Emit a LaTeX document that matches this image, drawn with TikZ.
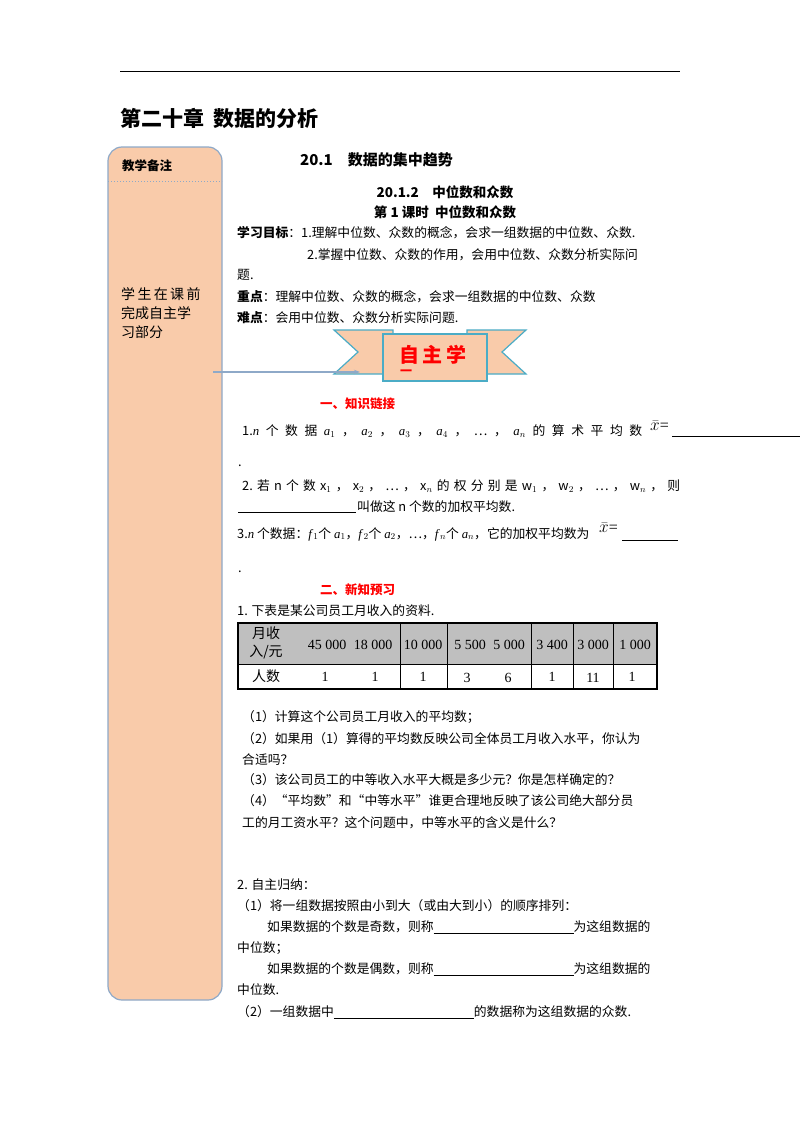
\documentclass[tikz,border=0pt]{standalone}
\usepackage{fontspec}
\setmainfont{Noto Sans CJK SC}
\newfontfamily\serifm{Liberation Serif}
\newcommand{\va}[1]{{\serifm\textit{#1}}}
\newcommand{\xbar}{{\serifm\fontsize{16}{16}\selectfont$\bar{x}$=}}
\usetikzlibrary{arrows.meta}
\definecolor{peach}{HTML}{F9CBAA}
\definecolor{frame}{HTML}{8EA9C8}
\definecolor{ribb}{HTML}{4BACC6}
\begin{document}
\begin{tikzpicture}[x=1pt,y=-1pt,
  t/.style={anchor=west,inner sep=0pt,font=\fontsize{12.8}{14}\selectfont},
  h/.style={anchor=west,inner sep=0pt,font=\fontsize{12.5}{14}\selectfont\bfseries},
  red/.style={anchor=west,inner sep=0pt,text=red,font=\fontsize{12.5}{14}\selectfont\bfseries},
  cell/.style={inner sep=0pt,font=\serifm\fontsize{14}{16}\selectfont}]
\useasboundingbox (0,0) rectangle (800,1132);
\fill[white] (0,0) rectangle (800,1132);
\draw[line width=1pt] (120,72) -- (680,72);
\node[anchor=west,inner sep=0pt,font=\fontsize{21}{24}\selectfont\bfseries] (ttl) at (120,118) {第二十章\ \ 数据的分析};
% side panel
\draw[frame,fill=peach,line width=1.2pt,rounded corners=14pt] (108,147) rectangle (222,1000);
\draw[frame,dotted,line width=1pt] (108,181) -- (222,181);
\node[h] (bz) at (122,166) {教学备注};
\node[anchor=north west,inner sep=0pt,align=left,font=\fontsize{14}{19}\selectfont] (sp) at (121,287) {学\,生\,在\,课\,前\\完成自主学\\习部分};
% headings
\node[anchor=west,inner sep=0pt,font=\fontsize{15}{17}\selectfont\bfseries] (h1) at (300,160) {20.1\quad 数据的集中趋势};
\node[inner sep=0pt,font=\fontsize{13.5}{15}\selectfont\bfseries] (h2) at (445,192) {20.1.2\quad 中位数和众数};
\node[inner sep=0pt,font=\fontsize{13.5}{15}\selectfont\bfseries] (h3) at (445,212) {第 1 课时\ \ 中位数和众数};
\node[t] (g1) at (237,233) {\textbf{学习目标}：1.理解中位数、众数的概念，会求一组数据的中位数、众数.};
\node[t] (g2) at (307,255) {2.掌握中位数、众数的作用，会用中位数、众数分析实际问};
\node[t] (g3) at (237,275) {题.};
\node[t] (g4) at (237,297) {\textbf{重点}：理解中位数、众数的概念，会求一组数据的中位数、众数};
\node[t] (g5) at (237,318) {\textbf{难点}：会用中位数、众数分析实际问题.};
% banner
\draw[ribb,fill=peach,line width=1.2pt] (334,330) -- (393,330) -- (393,374) -- (334,374) -- (358,352) -- cycle;
\draw[ribb,fill=peach,line width=1.2pt] (526,330) -- (467,330) -- (467,374) -- (526,374) -- (502,352) -- cycle;
\draw[ribb,fill=peach,line width=1.2pt] (383,334) rectangle (487,381);
\node[inner sep=0pt,text=red,font=\fontsize{20}{22}\selectfont\bfseries] (zz) at (433,355) {自\,主\,学};
\node[inner sep=0pt,text=red,font=\fontsize{12}{14}\selectfont\bfseries] (yi) at (406,373) {一};
\coordinate (ae) at (360,372);
\draw[frame,line width=1.2pt,-{Stealth[length=6pt]}] (213,372) -- (ae);
% section 1
\node[red] (s1) at (320,404) {一、知识链接};
\node[t] (k1) at (242,431) {\makebox[400pt][s]{1.\va{n}\hfill 个\hfill 数\hfill 据\hfill \va{a}$_1$\hfill ，\hfill \va{a}$_2$\hfill ，\hfill \va{a}$_3$\hfill ，\hfill \va{a}$_4$\hfill ，\hfill …\hfill ，\hfill \va{a}$_n$\hfill 的\hfill 算\hfill 术\hfill 平\hfill 均\hfill 数}};
\node[anchor=west,inner sep=0pt] (xb1) at (650,426) {\xbar};
\draw (672,436) -- (800,436);
\node[t] (d1) at (238,466) {.};
\node[t] (k2) at (242,486) {\makebox[438pt][s]{2.\hfill 若\hfill n\hfill 个\hfill 数\hfill x$_1$\hfill ，\hfill x$_2$\hfill ，\hfill …\hfill ，\hfill x$_n$\hfill 的\hfill 权\hfill 分\hfill 别\hfill 是\hfill w$_1$\hfill ，\hfill w$_2$\hfill ，\hfill …\hfill ，\hfill w$_n$\hfill ，\hfill 则}};
\draw (238,512) -- (356,512);
\node[t] (k2b) at (357,507) {叫做这 n 个数的加权平均数.};
\node[t] (k3) at (237,534) {3.\va{n} 个数据：\va{f}$_1$个 \va{a}$_1$，\va{f}$_2$个 \va{a}$_2$，…，\va{f}$_n$个 \va{a}$_n$，它的加权平均数为};
\node[anchor=west,inner sep=0pt] (xb2) at (599,528) {\xbar};
\draw (622,540) -- (678,540);
\node[t] (d2) at (238,572) {.};
% section 2
\node[red] (s2) at (320,590) {二、新知预习};
\node[t] (p1) at (237,611) {1. 下表是某公司员工月收入的资料.};
% table
\fill[gray!50] (238,623) rectangle (657,664);
\draw[line width=1.2pt] (238,623) rectangle (657,689);
\draw (238,664) -- (657,664);
\foreach \xx in {400,447,531,573,613} \draw (\xx,623) -- (\xx,689);
\node[inner sep=0pt,align=center,font=\fontsize{14}{18}\selectfont] (c0) at (266,643) {月收\\入/元};
\node[cell] (c1) at (327,645) {45 000};
\node[cell] (c2) at (373,645) {18 000};
\node[cell] (c3) at (423,645) {10 000};
\node[cell] (c4) at (470,645) {5 500};
\node[cell] (c5) at (509,645) {5 000};
\node[cell] (c6) at (552,645) {3 400};
\node[cell] (c7) at (593,645) {3 000};
\node[cell] (c8) at (635,645) {1 000};
\node[inner sep=0pt,font=\fontsize{14}{16}\selectfont] (r0) at (266,676) {人数};
\node[cell] (v1) at (325,677) {1};
\node[cell] (v2) at (375,677) {1};
\node[cell] (v3) at (423,677) {1};
\node[cell] (v4) at (467,678) {3};
\node[cell] (v5) at (508,678) {6};
\node[cell] (v6) at (552,677) {1};
\node[cell] (v7) at (593,678) {11};
\node[cell] (v8) at (632,677) {1};
\node[t] (q1) at (242,717) {（1）计算这个公司员工月收入的平均数；};
\node[t] (q2) at (242,739) {（2）如果用（1）算得的平均数反映公司全体员工月收入水平，你认为};
\node[t] (q2b) at (242,760) {合适吗？};
\node[t] (q3) at (242,780) {（3）该公司员工的中等收入水平大概是多少元？你是怎样确定的？};
\node[t] (q4) at (242,801) {（4）“平均数”和“中等水平”谁更合理地反映了该公司绝大部分员};
\node[t] (q4b) at (242,823) {工的月工资水平？这个问题中，中等水平的含义是什么？};
\node[t] (n0) at (237,885) {2. 自主归纳：};
\node[t] (n1) at (237,906) {（1）将一组数据按照由小到大（或由大到小）的顺序排列：};
\node[t] (n2) at (267,927) {如果数据的个数是奇数，则称\underline{\hspace{140pt}}为这组数据的};
\node[t] (n2b) at (237,948) {中位数；};
\node[t] (n3) at (267,969) {如果数据的个数是偶数，则称\underline{\hspace{140pt}}为这组数据的};
\node[t] (n3b) at (237,990) {中位数.};
\node[t] (n4) at (237,1012) {（2）一组数据中\underline{\hspace{140pt}}的数据称为这组数据的众数.};
\end{tikzpicture}
\end{document}
